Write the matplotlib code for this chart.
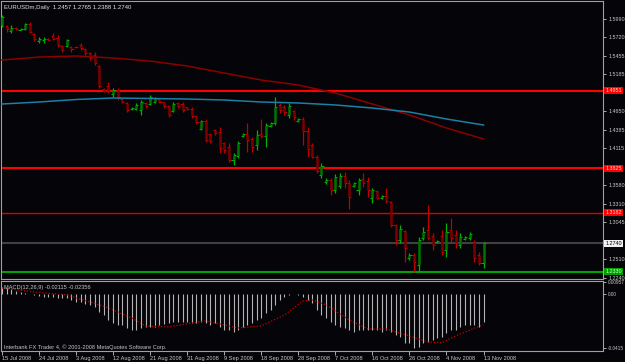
import numpy as np
import matplotlib
matplotlib.use("Agg")
import matplotlib.pyplot as plt

# daily EURUSD bars, 15 Jul 2008 .. 13 Nov 2008
opens = [1.5899, 1.5885, 1.5812, 1.5856, 1.5834, 1.5841, 1.5914, 1.5769, 1.5668, 1.5682,
         1.5704, 1.5740, 1.5711, 1.5595, 1.5595, 1.5581, 1.5588, 1.5610, 1.5552, 1.5494,
         1.5465, 1.5306, 1.4973, 1.5017, 1.4901, 1.4959, 1.4828, 1.4771, 1.4684, 1.4684,
         1.4669, 1.4771, 1.4756, 1.4785, 1.4828, 1.4785, 1.4727, 1.4655, 1.4771, 1.4756,
         1.4713, 1.4684, 1.4582, 1.4394, 1.4510, 1.4322, 1.4380, 1.4351, 1.4192, 1.4134,
         1.3946, 1.4004, 1.4293, 1.4322, 1.4250, 1.4163, 1.4322, 1.4293, 1.4438, 1.4481,
         1.4742, 1.4713, 1.4597, 1.4655, 1.4510, 1.4539, 1.4365, 1.4163, 1.3989, 1.3729,
         1.3627, 1.3656, 1.3512, 1.3570, 1.3714, 1.3613, 1.3570, 1.3512, 1.3671, 1.3642,
         1.3396, 1.3497, 1.3396, 1.3425, 1.3338, 1.3005, 1.2788, 1.2918, 1.2528, 1.2571,
         1.2426, 1.2817, 1.2933, 1.2846, 1.2759, 1.2846, 1.2643, 1.2933, 1.2861, 1.2716,
         1.2803, 1.2817, 1.2759, 1.2571, 1.2457]
highs = [1.6044, 1.5899, 1.5899, 1.5870, 1.5856, 1.5928, 1.5943, 1.5783, 1.5726, 1.5726,
         1.5711, 1.5783, 1.5755, 1.5610, 1.5697, 1.5595, 1.5595, 1.5639, 1.5566, 1.5509,
         1.5509, 1.5320, 1.4988, 1.5074, 1.4988, 1.4988, 1.4843, 1.4785, 1.4713, 1.4771,
         1.4814, 1.4785, 1.4886, 1.4857, 1.4828, 1.4785, 1.4742, 1.4785, 1.4785, 1.4785,
         1.4713, 1.4713, 1.4597, 1.4525, 1.4539, 1.4336, 1.4394, 1.4423, 1.4206, 1.4192,
         1.4047, 1.4221, 1.4336, 1.4481, 1.4279, 1.4380, 1.4539, 1.4481, 1.4496, 1.4857,
         1.4771, 1.4742, 1.4771, 1.4669, 1.4554, 1.4568, 1.4423, 1.4192, 1.4018, 1.3902,
         1.3685, 1.3685, 1.3743, 1.3758, 1.3772, 1.3656, 1.3627, 1.3685, 1.3758, 1.3700,
         1.3541, 1.3512, 1.3439, 1.3541, 1.3353, 1.3020, 1.3005, 1.2933, 1.2600, 1.2600,
         1.2832, 1.2976, 1.3295, 1.2889, 1.2788, 1.2933, 1.3034, 1.3107, 1.2933, 1.2889,
         1.2846, 1.2904, 1.2788, 1.2615, 1.2765]
lows = [1.5870, 1.5798, 1.5783, 1.5827, 1.5827, 1.5827, 1.5783, 1.5668, 1.5639, 1.5639,
        1.5682, 1.5682, 1.5581, 1.5509, 1.5581, 1.5509, 1.5566, 1.5537, 1.5465, 1.5393,
        1.5320, 1.4988, 1.4930, 1.4915, 1.4857, 1.4814, 1.4771, 1.4640, 1.4669, 1.4669,
        1.4597, 1.4698, 1.4742, 1.4771, 1.4771, 1.4698, 1.4568, 1.4640, 1.4698, 1.4640,
        1.4669, 1.4554, 1.4467, 1.4380, 1.4206, 1.4192, 1.4308, 1.4047, 1.4047, 1.3917,
        1.3873, 1.3975, 1.4279, 1.4062, 1.4062, 1.4090, 1.4264, 1.4134, 1.4423, 1.4452,
        1.4626, 1.4597, 1.4554, 1.4525, 1.4496, 1.4163, 1.3989, 1.3975, 1.3758, 1.3685,
        1.3599, 1.3439, 1.3468, 1.3541, 1.3541, 1.3237, 1.3555, 1.3439, 1.3555, 1.3410,
        1.3324, 1.3381, 1.3381, 1.3324, 1.2976, 1.2716, 1.2745, 1.2470, 1.2499, 1.2325,
        1.2325, 1.2788, 1.2788, 1.2643, 1.2745, 1.2571, 1.2542, 1.2759, 1.2672, 1.2672,
        1.2788, 1.2788, 1.2470, 1.2426, 1.2388]
closes = [1.6015, 1.5841, 1.5856, 1.5841, 1.5841, 1.5914, 1.5798, 1.5697, 1.5697, 1.5697,
          1.5689, 1.5697, 1.5610, 1.5537, 1.5682, 1.5552, 1.5574, 1.5566, 1.5494, 1.5422,
          1.5349, 1.5017, 1.4944, 1.4944, 1.4959, 1.4843, 1.4785, 1.4669, 1.4698, 1.4742,
          1.4785, 1.4727, 1.4857, 1.4843, 1.4785, 1.4727, 1.4597, 1.4756, 1.4727, 1.4669,
          1.4684, 1.4582, 1.4496, 1.4510, 1.4235, 1.4221, 1.4336, 1.4119, 1.4090, 1.3946,
          1.4018, 1.4192, 1.4322, 1.4235, 1.4134, 1.4308, 1.4293, 1.4452, 1.4481, 1.4713,
          1.4669, 1.4640, 1.4727, 1.4568, 1.4539, 1.4365, 1.4105, 1.3989, 1.3787, 1.3859,
          1.3656, 1.3512, 1.3700, 1.3714, 1.3613, 1.3410, 1.3613, 1.3656, 1.3613, 1.3512,
          1.3512, 1.3396, 1.3425, 1.3353, 1.3005, 1.2788, 1.2948, 1.2672, 1.2571, 1.2470,
          1.2788, 1.2904, 1.2817, 1.2716, 1.2774, 1.2615, 1.2904, 1.2817, 1.2745, 1.2832,
          1.2832, 1.2875, 1.2528, 1.2455, 1.2740]

# moving averages, read at the date-label bars
ma_bars = [0, 8, 16, 24, 32, 40, 48, 56, 64, 72, 80, 88, 96, 104]
ma_slow = [1.5393, 1.5436, 1.5451, 1.5422, 1.5378, 1.5306, 1.5205, 1.5103, 1.5031,
           1.4915, 1.4756, 1.4597, 1.4409, 1.4250]
ma_fast = [1.4756, 1.4785, 1.4821, 1.4843, 1.4836, 1.4828, 1.4814, 1.4785, 1.4771,
           1.4742, 1.4698, 1.4640, 1.4539, 1.4452]

# MACD(12,26,9) histogram per bar, signal read at some bars
macd = [0.0060, 0.0050, 0.0038, 0.0028, 0.0018, 0.0012, 0.0004, -0.0006, -0.0014, -0.0020,
        -0.0022, -0.0022, -0.0026, -0.0030, -0.0030, -0.0044, -0.0060, -0.0060, -0.0075, -0.0083,
        -0.0098, -0.0137, -0.0161, -0.0200, -0.0223, -0.0238, -0.0238, -0.0262, -0.0277, -0.0277,
        -0.0262, -0.0254, -0.0254, -0.0254, -0.0238, -0.0231, -0.0223, -0.0215, -0.0215, -0.0215,
        -0.0215, -0.0223, -0.0223, -0.0213, -0.0226, -0.0238, -0.0226, -0.0252, -0.0277, -0.0277,
        -0.0290, -0.0277, -0.0252, -0.0238, -0.0226, -0.0200, -0.0186, -0.0148, -0.0122, -0.0083,
        -0.0044, -0.0019, -0.0005, 0.0003, -0.0003, -0.0019, -0.0044, -0.0070, -0.0122, -0.0161,
        -0.0186, -0.0213, -0.0238, -0.0252, -0.0264, -0.0277, -0.0290, -0.0277, -0.0277, -0.0277,
        -0.0277, -0.0277, -0.0290, -0.0277, -0.0290, -0.0316, -0.0330, -0.0375, -0.0381, -0.0415,
        -0.0407, -0.0381, -0.0368, -0.0355, -0.0342, -0.0329, -0.0303, -0.0277, -0.0277, -0.0252,
        -0.0238, -0.0238, -0.0238, -0.0252, -0.0212]
sig_bars = [0, 7, 14, 19, 23, 28, 31, 36, 41, 44, 46, 51, 56, 61, 65, 67, 70, 75, 79, 83,
            88, 92, 95, 97, 100, 104]
signal = [0.0049, 0.0018, -0.0005, -0.0060, -0.0106, -0.0184, -0.0246, -0.0254, -0.0223,
          -0.0207, -0.0223, -0.0262, -0.0246, -0.0161, -0.0052, -0.0044, -0.0083, -0.0200,
          -0.0270, -0.0270, -0.0324, -0.0371, -0.0378, -0.0340, -0.0293, -0.0236]

# horizontal levels
levels = [1.4951, 1.3825, 1.3182, 1.2740, 1.2330]
level_labels = ['1.4951', '1.3825', '1.3182', '1.2740', '1.2330']

price_ticks = [1.5990, 1.5720, 1.5455, 1.5185, 1.4920, 1.4650, 1.4385, 1.4115,
               1.3850, 1.3580, 1.3310, 1.3045, 1.2775, 1.2510, 1.2240]
# the labels at 1.4920, 1.3850 and 1.2775 sit under the level boxes
price_tick_labels = ['1.5990', '1.5720', '1.5455', '1.5185', '', '1.4650', '1.4385', '1.4115',
                     '', '1.3580', '1.3310', '1.3045', '', '1.2510', '1.2240']
macd_ticks = [0.00957, 0.0, -0.0415]
macd_tick_labels = ['0.00957', '0.00', '-0.0415']
date_bars = [0, 8, 16, 24, 32, 40, 48, 56, 64, 72, 80, 88, 96, 104]
date_labels = ['15 Jul 2008', '24 Jul 2008', '3 Aug 2008', '12 Aug 2008', '21 Aug 2008',
               '31 Aug 2008', '9 Sep 2008', '18 Sep 2008', '28 Sep 2008', '7 Oct 2008',
               '16 Oct 2008', '26 Oct 2008', '4 Nov 2008', '13 Nov 2008']

plt.rcParams['font.family'] = ['Liberation Sans', 'DejaVu Sans']

W, H = 625, 362
BG = '#050408'
FRAME = '#a0a0a0'
TXT = '#c8c8c8'
FS = 3.9

fig = plt.figure(figsize=(W / 100, H / 100), dpi=100, facecolor=BG)

# main price panel and the MACD panel under it (pixel boxes)
ax = fig.add_axes([1 / W, (H - 279) / H, 602 / W, 278 / H], facecolor=BG)
ax2 = fig.add_axes([1 / W, (H - 351) / H, 602 / W, 70 / H], facecolor=BG)

px = 4.63  # pixels per bar
xlim = (-1 / px, 601 / px)

n = len(opens)
idx = np.arange(n)
o = np.array(opens)
c = np.array(closes)
up = c >= o

# candles: thin wick, slightly wider body
for i in range(n):
    if up[i]:
        wick, body = '#00b400', '#007000'
    else:
        wick, body = '#c00000', '#7a0000'
    ax.vlines(i, lows[i], highs[i], color=wick, lw=0.9, zorder=3)
    b0, b1 = min(o[i], c[i]), max(o[i], c[i])
    if b1 - b0 < 0.0004:
        b1 = b0 + 0.0004
    ax.vlines(i, b0, b1, color=body, lw=1.8, zorder=3)
    ax.hlines(o[i], i - 0.45, i, color=wick, lw=0.7, zorder=3)
    ax.hlines(c[i], i, i + 0.45, color=wick, lw=0.7, zorder=3)

ax.plot(ma_bars, ma_slow, color='#8b0000', lw=1.1, zorder=4)
ax.plot(ma_bars, ma_fast, color='#1c7fa6', lw=1.1, zorder=4)

level_colors = ['#ff0000', '#ff0000', '#e00000', '#404040', '#00a000']
level_widths = [1.5, 1.5, 1.0, 1.5, 1.5]
box_colors = ['#ff0000', '#ff0000', '#ff0000', '#f0f0f0', '#00a000']
box_text = ['#ffd0d0', '#ffd0d0', '#ffd0d0', '#000000', '#d0ffd0']
for lv, lab, lc, lw, bc, tc in zip(levels, level_labels, level_colors, level_widths,
                                   box_colors, box_text):
    ax.axhline(lv, color=lc, lw=lw, zorder=2)
    ax.text(1.004, lv, lab, transform=ax.get_yaxis_transform(), fontsize=FS,
            color=tc, va='center', ha='left', zorder=6,
            bbox=dict(facecolor=bc, edgecolor='none', pad=0.8))

ax.set_xlim(xlim)
ax.set_ylim(1.2223, 1.6247)
ax.set_yticks(price_ticks)
ax.set_yticklabels(price_tick_labels)
ax.yaxis.tick_right()
ax.tick_params(axis='y', colors=TXT, length=2.5, width=0.6, pad=1.2, labelsize=FS)
ax.set_xticks([])

fig.text(4 / W, 1 - 7 / H, 'EURUSDm,Daily  1.2457 1.2765 1.2388 1.2740',
         color='#e0e0e0', fontsize=4.3, va='center', ha='left')

# MACD panel
ax2.vlines(idx, 0, macd, color='#b4b4b4', lw=0.8, zorder=2)
ax2.plot(sig_bars, signal, color='#d00000', lw=0.9, ls=(0, (1, 1.5)), zorder=3)
ax2.set_xlim(xlim)
ax2.set_ylim(-0.0441, 0.01033)
ax2.set_yticks(macd_ticks)
ax2.set_yticklabels(macd_tick_labels)
ax2.yaxis.tick_right()
ax2.tick_params(axis='y', colors=TXT, length=2.5, width=0.6, pad=0.8, labelsize=3.4)
ax2.set_xticks(date_bars)
ax2.set_xticklabels(date_labels)
for lbl in ax2.get_xticklabels():
    lbl.set_ha('left')
ax2.tick_params(axis='x', colors=TXT, length=3, width=0.6, pad=0.5, labelsize=4.1)

ax2.text(3 / 602, 0.9, 'MACD(12,26,9) -0.02115 -0.02356', transform=ax2.transAxes,
         color=TXT, fontsize=4.1, va='center', ha='left', zorder=5)
ax2.text(3 / 602, 0.06, 'Interbank FX Trader 4, \u00a9 2001-2008 MetaQuotes Software Corp.',
         transform=ax2.transAxes, color=TXT, fontsize=4.1, va='center', ha='left', zorder=5)

for a in (ax, ax2):
    for s in a.spines.values():
        s.set_color(FRAME)
        s.set_linewidth(0.8)

fig.savefig('out.png', dpi=100, facecolor=BG)
